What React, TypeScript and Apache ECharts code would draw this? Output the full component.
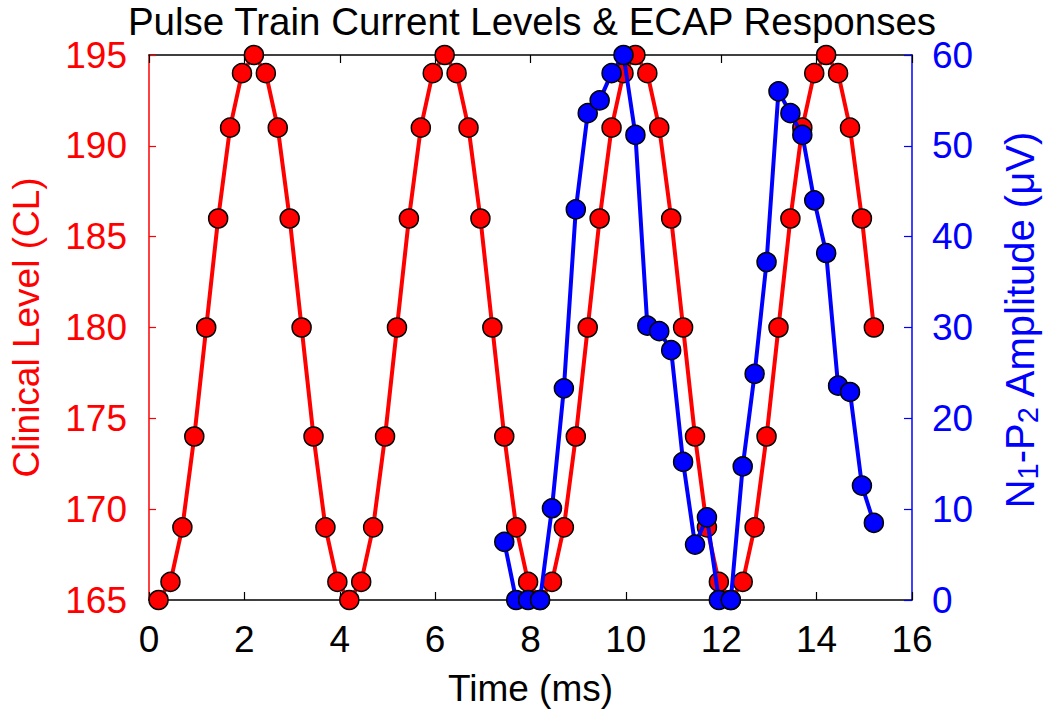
import React, { useEffect, useRef } from "react";
import * as echarts from "echarts";

const TITLE = "Pulse Train Current Levels & ECAP Responses";
const X_NAME = "Time (ms)";
const Y_LEFT_NAME = "Clinical Level (CL)";

const redTime = [
  0.2, 0.45, 0.7, 0.95, 1.2, 1.45, 1.7, 1.95, 2.2, 2.45, 2.7, 2.95, 3.2, 3.45, 3.7, 3.95,
  4.2, 4.45, 4.7, 4.95, 5.2, 5.45, 5.7, 5.95, 6.2, 6.45, 6.7, 6.95, 7.2, 7.45, 7.7, 7.95,
  8.2, 8.45, 8.7, 8.95, 9.2, 9.45, 9.7, 9.95, 10.2, 10.45, 10.7, 10.95, 11.2, 11.45, 11.7, 11.95,
  12.2, 12.45, 12.7, 12.95, 13.2, 13.45, 13.7, 13.95, 14.2, 14.45, 14.7, 14.95, 15.2,
];
const redLevel = [
  165, 166, 169, 174, 180, 186, 191, 194, 195, 194, 191, 186, 180, 174, 169, 166,
  165, 166, 169, 174, 180, 186, 191, 194, 195, 194, 191, 186, 180, 174, 169, 166,
  165, 166, 169, 174, 180, 186, 191, 194, 195, 194, 191, 186, 180, 174, 169, 166,
  165, 166, 169, 174, 180, 186, 191, 194, 195, 194, 191, 186, 180,
];

const blueTime = [
  7.45, 7.7, 7.95, 8.2, 8.45, 8.7, 8.95, 9.2, 9.45, 9.7, 9.95, 10.2, 10.45, 10.7, 10.95, 11.2,
  11.45, 11.7, 11.95, 12.2, 12.45, 12.7, 12.95, 13.2, 13.45, 13.7, 13.95, 14.2, 14.45, 14.7, 14.95, 15.2,
];
const blueAmp = [
  6.4, 0, 0, 0, 10.1, 23.3, 43, 53.6, 55, 58, 60, 51.2, 30.2, 29.6, 27.5, 15.2,
  6.1, 9.1, 0, 0, 14.7, 24.9, 37.2, 56, 53.6, 51.2, 44, 38.2, 23.6, 22.9, 12.6, 8.5,
];

const xTicks = { min: 0, max: 16, interval: 2 };
const yLeftTicks = { min: 165, max: 195, interval: 5 };
const yRightTicks = { min: 0, max: 60, interval: 10 };

const RED = "#ff0000";
const BLUE = "#0000ff";
const FONT = "'Liberation Sans', Arial, Helvetica, sans-serif";
const FS = 37;

export default function App() {
  const ref = useRef<HTMLDivElement>(null);

  useEffect(() => {
    if (!ref.current) return;
    const chart = echarts.init(ref.current, undefined, { renderer: "svg" });

    const redData = redTime.map((t, i) => [t, redLevel[i]]);
    const blueData = blueTime.map((t, i) => [t, blueAmp[i]]);

    const option: any = {
      animation: false,
      backgroundColor: "#ffffff",
      textStyle: { fontFamily: FONT },
      title: {
        text: TITLE,
        left: 527,
        textAlign: "center",
        top: -3,
        textStyle: { fontFamily: FONT, fontSize: 38.5, fontWeight: "normal", color: "#000000" },
      },
      grid: { left: 141, right: 131, top: 55, bottom: 126, containLabel: false },
      xAxis: [
        {
          type: "value",
          position: "bottom",
          min: xTicks.min,
          max: xTicks.max,
          interval: xTicks.interval,
          name: X_NAME,
          nameLocation: "middle",
          nameGap: 70,
          nameTextStyle: { fontFamily: FONT, fontSize: FS, color: "#000000" },
          axisLine: { show: true, onZero: false, lineStyle: { color: "#000000", width: 1.5 } },
          axisTick: { show: true, inside: true, length: 8, lineStyle: { color: "#000000", width: 1.2 } },
          axisLabel: { fontFamily: FONT, fontSize: FS, color: "#000000", margin: 21 },
          splitLine: { show: false },
        },
        {
          type: "value",
          position: "top",
          min: xTicks.min,
          max: xTicks.max,
          interval: xTicks.interval,
          axisLine: { show: true, onZero: false, lineStyle: { color: "#000000", width: 1.5 } },
          axisTick: { show: true, inside: true, length: 8, lineStyle: { color: "#000000", width: 1.2 } },
          axisLabel: { show: false },
          splitLine: { show: false },
        },
      ],
      yAxis: [
        {
          type: "value",
          position: "left",
          min: yLeftTicks.min,
          max: yLeftTicks.max,
          interval: yLeftTicks.interval,
          name: Y_LEFT_NAME,
          nameLocation: "middle",
          nameRotate: 90,
          nameGap: 104,
          nameTextStyle: { fontFamily: FONT, fontSize: FS, color: RED },
          axisLine: { show: true, onZero: false, lineStyle: { color: RED, width: 1.5 } },
          axisTick: { show: true, inside: true, length: 7, lineStyle: { color: RED, width: 1.2 } },
          axisLabel: { fontFamily: FONT, fontSize: FS, color: RED, margin: 22 },
          splitLine: { show: false },
        },
        {
          type: "value",
          position: "right",
          min: yRightTicks.min,
          max: yRightTicks.max,
          interval: yRightTicks.interval,
          name: "{a|N}{s|1}{a|-P}{s|2}{a| Amplitude (μV)}",
          nameLocation: "middle",
          nameRotate: 90,
          nameGap: 85,
          nameTextStyle: {
            fontFamily: FONT,
            fontSize: 40,
            color: BLUE,
            padding: [0, 0, 0, 16],
            rich: {
              a: { fontFamily: FONT, fontSize: 40, color: BLUE, lineHeight: 45, verticalAlign: "middle" },
              s: { fontFamily: FONT, fontSize: 29, color: BLUE, lineHeight: 29, verticalAlign: "bottom" },
            },
          },
          axisLine: { show: true, onZero: false, lineStyle: { color: BLUE, width: 1.5 } },
          axisTick: { show: true, inside: true, length: 8, lineStyle: { color: BLUE, width: 1.2 } },
          axisLabel: { fontFamily: FONT, fontSize: FS, color: BLUE, margin: 20 },
          splitLine: { show: false },
        },
      ],
      series: [
        {
          name: "CL",
          type: "line",
          xAxisIndex: 0,
          yAxisIndex: 0,
          data: redData,
          symbol: "circle",
          symbolSize: 19,
          showAllSymbol: true,
          lineStyle: { color: RED, width: 4 },
          itemStyle: { color: RED, borderColor: "#000000", borderWidth: 1.5 },
          z: 2,
        },
        {
          name: "ECAP",
          type: "line",
          xAxisIndex: 0,
          yAxisIndex: 1,
          data: blueData,
          symbol: "circle",
          symbolSize: 19,
          showAllSymbol: true,
          lineStyle: { color: BLUE, width: 4 },
          itemStyle: { color: BLUE, borderColor: "#000000", borderWidth: 1.5 },
          z: 3,
        },
      ],
    };

    chart.setOption(option);
    return () => {
      chart.dispose();
    };
  }, []);

  return (
    <div
      ref={ref}
      style={{ position: "fixed", left: 0, top: 0, width: 1050, height: 726, background: "#ffffff" }}
    />
  );
}
